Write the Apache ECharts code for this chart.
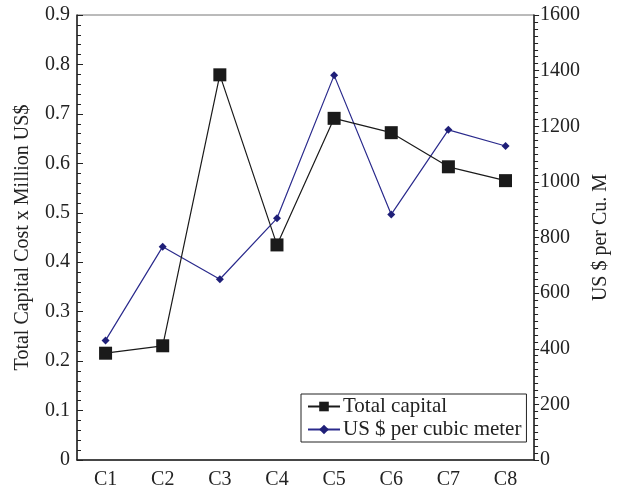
<!DOCTYPE html>
<html>
<head>
<meta charset="UTF-8">
<title>Capital cost chart</title>
<style>
  html, body { margin: 0; padding: 0; background: #fff; }
  #chart { width: 619px; height: 496px; }
</style>
</head>
<body>
<div id="chart"></div>
<script src="https://cdn.jsdelivr.net/npm/echarts@6/dist/echarts.min.js"></script>
<script>
const categories = ['C1', 'C2', 'C3', 'C4', 'C5', 'C6', 'C7', 'C8'];
const totalCapital = [0.216, 0.231, 0.779, 0.435, 0.691, 0.662, 0.593, 0.565];
const usdPerCubicMeter = [430, 767, 650, 869, 1383, 883, 1187, 1129];

const FONT = 'Liberation Serif';
const FS = 20;
const chart = echarts.init(document.getElementById('chart'));

chart.setOption({
  animation: false,
  textStyle: { fontFamily: FONT, fontSize: FS, color: '#222' },
  grid: { left: 77, right: 83, top: 15, bottom: 36, show: true, borderColor: '#777', borderWidth: 1 },
  legend: {
    orient: 'vertical',
    left: 301, top: 394,
    borderColor: '#222', borderWidth: 1,
    padding: [2, 5, 2, 6],
    itemWidth: 32, itemHeight: 12, itemGap: 2,
    textStyle: { fontFamily: FONT, fontSize: 21, color: '#222', padding: [0, 0, 0, -2] },
    data: ['Total capital', 'US $ per cubic meter']
  },
  xAxis: [{
    type: 'category',
    data: categories,
    boundaryGap: true,
    axisLine: { lineStyle: { color: '#222', width: 1.5 } },
    axisTick: { inside: true, length: 6, lineStyle: { color: '#222' } },
    axisLabel: { fontFamily: FONT, fontSize: FS, color: '#222', margin: 10 }
  }, {
    type: 'category',
    data: categories,
    position: 'bottom',
    boundaryGap: true,
    axisLine: { show: false },
    axisTick: { inside: true, length: 4, alignWithLabel: true, lineStyle: { color: '#222' } },
    axisLabel: { show: false }
  }],
  yAxis: [{
    type: 'value',
    min: 0, max: 0.9, interval: 0.1,
    name: 'Total Capital Cost x Million US$',
    nameLocation: 'middle', nameRotate: 90, nameGap: 44,
    nameTextStyle: { fontFamily: FONT, fontSize: FS, color: '#222' },
    axisLine: { show: true, lineStyle: { color: '#222', width: 1.5 } },
    axisTick: { show: true, inside: true, length: 6, lineStyle: { color: '#222' } },
    minorTick: { show: true, splitNumber: 5, length: 4, lineStyle: { color: '#222' } },
    splitLine: { show: false },
    axisLabel: { fontFamily: FONT, fontSize: FS, color: '#222', margin: 7,
      formatter: v => (Math.round(v * 10) / 10).toString() }
  }, {
    type: 'value',
    min: 0, max: 1600, interval: 200,
    position: 'right',
    name: 'US $ per Cu. M',
    nameLocation: 'middle', nameRotate: 90, nameGap: 54,
    nameTextStyle: { fontFamily: FONT, fontSize: FS, color: '#222' },
    axisLine: { show: true, lineStyle: { color: '#222', width: 1.5 } },
    axisTick: { show: true, inside: false, length: 5, lineStyle: { color: '#222' } },
    minorTick: { show: true, splitNumber: 8, length: 4, lineStyle: { color: '#222' } },
    splitLine: { show: false },
    axisLabel: { fontFamily: FONT, fontSize: FS, color: '#222', margin: 6,
      formatter: v => String(v) }
  }],
  series: [{
    name: 'Total capital',
    type: 'line',
    yAxisIndex: 0,
    data: totalCapital,
    symbol: 'rect',
    symbolSize: 13,
    itemStyle: { color: '#1a1a1a' },
    lineStyle: { color: '#1a1a1a', width: 1.2 },
    z: 3
  }, {
    name: 'US $ per cubic meter',
    type: 'line',
    yAxisIndex: 1,
    data: usdPerCubicMeter,
    symbol: 'diamond',
    symbolSize: 8,
    itemStyle: { color: '#1f1f78' },
    lineStyle: { color: '#2a2a8c', width: 1.2 },
    z: 2
  }]
});

window.addEventListener('resize', () => chart.resize());
</script>
</body>
</html>
